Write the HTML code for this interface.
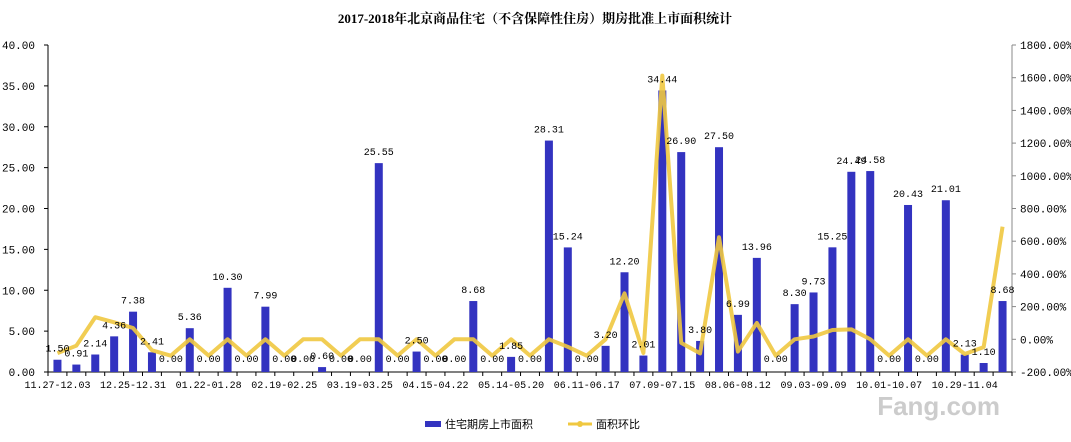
<!DOCTYPE html>
<html><head><meta charset="utf-8"><style>
html,body{margin:0;padding:0;background:#fff;width:1071px;height:442px;overflow:hidden}
svg text{font-family:"Liberation Mono","Noto Sans CJK SC",monospace;font-size:10px;fill:#000}
svg text.ax{font-size:11px}
</style></head><body>
<svg id="c" width="1071" height="442" xmlns="http://www.w3.org/2000/svg">
<text x="535" y="23" text-anchor="middle" style="font-family:'Liberation Serif','Noto Serif CJK SC',serif;font-weight:bold;font-size:13px">2017-2018年北京商品住宅（不含保障性住房）期房批准上市面积统计</text>
</svg>
<script>
var s=document.getElementById('c'),h='';
var v=[1.50,0.91,2.14,4.36,7.38,2.41,0,5.36,0,10.30,0,7.99,0,0,0.60,0,0,25.55,0,2.50,0,0,8.68,0,1.85,0,28.31,15.24,0,3.20,12.20,2.01,34.44,26.90,3.80,27.50,6.99,13.96,0,8.30,9.73,15.25,24.49,24.58,0,20.43,0,21.01,2.13,1.10,8.68];
var r=[-85,-39,135,104,69,-67,-100,0,-100,0,-100,0,-100,0,0,-100,0,0,-100,0,-100,0,0,-100,0,-100,0,-46,-100,0,281,-84,1613,-22,-86,624,-75,100,-100,0,17,57,61,0.4,-100,0,-100,0,-90,-48,689];
var L=48,R=1012,B=372,T=45,w=(R-L)/51;
function yl(x){return B-x*(B-T)/40}
function yr(p){return B-(p+200)*(B-T)/2000}
h+='<line x1="'+L+'" y1="'+T+'" x2="'+L+'" y2="'+B+'" stroke="#000"/>';
h+='<line x1="'+R+'" y1="'+T+'" x2="'+R+'" y2="'+B+'" stroke="#888"/>';
h+='<line x1="'+L+'" y1="'+B+'" x2="'+R+'" y2="'+B+'" stroke="#000"/>';
for(var i=0;i<=8;i++){var y=yl(i*5);h+='<line x1="'+(L-4)+'" y1="'+y+'" x2="'+L+'" y2="'+y+'" stroke="#000"/><text class="ax" x="35" y="'+(y+4)+'" text-anchor="end">'+(i*5).toFixed(2)+'</text>';}
for(var i=0;i<=10;i++){var p=-200+i*200,y=yr(p);h+='<line x1="'+R+'" y1="'+y+'" x2="'+(R+4)+'" y2="'+y+'" stroke="#888"/><text class="ax" x="1020" y="'+(y+4)+'">'+p.toFixed(2)+'%</text>';}
for(var i=0;i<=51;i++){var x=L+i*w;h+='<line x1="'+x+'" y1="'+B+'" x2="'+x+'" y2="'+(B+4)+'" stroke="#000"/>';}
var labs=['11.27-12.03','12.25-12.31','01.22-01.28','02.19-02.25','03.19-03.25','04.15-04.22','05.14-05.20','06.11-06.17','07.09-07.15','08.06-08.12','09.03-09.09','10.01-10.07','10.29-11.04'];
labs.forEach(function(t,k){var x=L+(k*4+0.5)*w;h+='<text x="'+x+'" y="388" text-anchor="middle">'+t+'</text>';});
var pts=[];
v.forEach(function(a,i){var cx=L+(i+0.5)*w;if(a>0){var y=yl(a);h+='<rect x="'+(cx-4)+'" y="'+y+'" width="8" height="'+(B-y)+'" fill="#3333c0"/>';}
pts.push(cx+','+yr(r[i]));});
h+='<polyline points="'+pts.join(' ')+'" fill="none" stroke="#f0c840" stroke-width="4" stroke-linejoin="round" opacity="0.9"/>';
v.forEach(function(a,i){var cx=L+(i+0.5)*w;var y=a>0?yl(a)-8:362;h+='<text x="'+cx+'" y="'+y+'" text-anchor="middle">'+a.toFixed(2)+'</text>';});
h+='<rect x="425" y="421" width="16" height="6" fill="#3333c0"/><text class="ax" x="445" y="428">住宅期房上市面积</text>';
h+='<line x1="568" y1="424" x2="592" y2="424" stroke="#f0c840" stroke-width="3"/><circle cx="580" cy="424" r="3" fill="#f0c840"/><text class="ax" x="596" y="428">面积环比</text>';
h+='<text x="1000" y="415" text-anchor="end" style="font-family:\'Liberation Sans\',sans-serif;font-size:26px;font-weight:bold;fill:#ccc">Fang.com</text>';
s.innerHTML+=h;
</script>
</body></html>
